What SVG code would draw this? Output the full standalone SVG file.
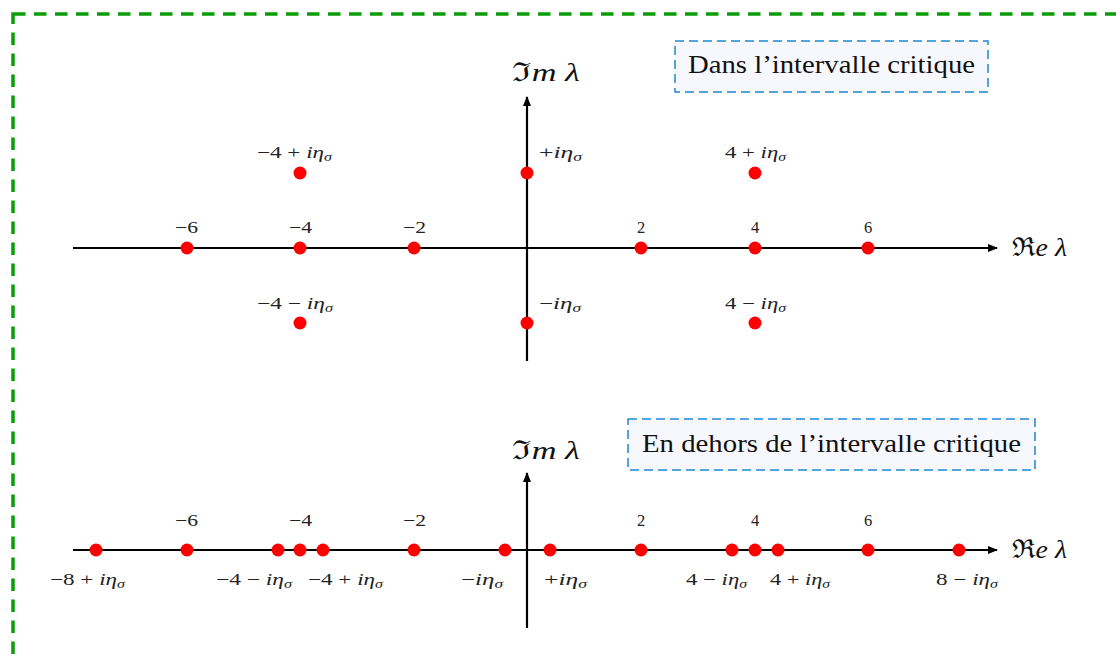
<svg xmlns="http://www.w3.org/2000/svg" width="1116" height="654" viewBox="0 0 1116 654">
<style>
.ax{stroke:#000;stroke-width:2.2;fill:none}
.dot{fill:#ff0000}
.t{font-family:"Liberation Serif","DejaVu Serif",serif;font-size:16.5px;fill:#222}
.s{font-size:11.5px;font-style:italic}
.big{font-family:"Liberation Serif","DejaVu Serif",serif;font-size:26px;fill:#111}
.box{fill:#f7f8fd;stroke:#1f88d0;stroke-width:1.5;stroke-dasharray:9 5}
.bt{font-family:"Liberation Serif","DejaVu Serif",serif;font-size:25px;fill:#111}
.i{font-style:italic}
</style>
<defs>
<marker id="arr" viewBox="0 0 10 8" refX="9" refY="4" markerWidth="11" markerHeight="8" markerUnits="userSpaceOnUse" orient="auto">
<path d="M0,0 L10,4 L0,8 z" fill="#000"/>
</marker>
</defs>
<rect x="13" y="14" width="1130" height="660" fill="none" stroke="#0a9d0a" stroke-width="3.5" stroke-dasharray="12.5 8.5"/>

<g id="connectors">
<line class="ax" x1="73" y1="248" x2="997" y2="248" marker-end="url(#arr)"/>
<line class="ax" x1="527" y1="361" x2="527" y2="97" marker-end="url(#arr)"/>
<line class="ax" x1="73" y1="550" x2="997" y2="550" marker-end="url(#arr)"/>
<line class="ax" x1="527" y1="628" x2="527" y2="473" marker-end="url(#arr)"/>
</g>

<g id="axis-labels">
<text class="big" x="512" y="81" textLength="68" lengthAdjust="spacingAndGlyphs">ℑ<tspan class="i">m λ</tspan></text>
<text class="big" x="1012" y="256" textLength="55" lengthAdjust="spacingAndGlyphs">ℜ<tspan class="i">e λ</tspan></text>
<text class="big" x="512" y="459" textLength="68" lengthAdjust="spacingAndGlyphs">ℑ<tspan class="i">m λ</tspan></text>
<text class="big" x="1012" y="558" textLength="55" lengthAdjust="spacingAndGlyphs">ℜ<tspan class="i">e λ</tspan></text>
</g>

<g id="box1">
<rect class="box" x="675" y="41" width="313" height="51"/>
<text class="bt" x="688" y="73" textLength="287" lengthAdjust="spacingAndGlyphs">Dans l’intervalle critique</text>
</g>
<g id="box2">
<rect class="box" x="628" y="419" width="407" height="51"/>
<text class="bt" x="642" y="452" textLength="379" lengthAdjust="spacingAndGlyphs">En dehors de l’intervalle critique</text>
</g>

<g id="top-points">
<circle class="dot" cx="187" cy="248" r="6.5"/>
<circle class="dot" cx="300" cy="248" r="6.5"/>
<circle class="dot" cx="414" cy="248" r="6.5"/>
<circle class="dot" cx="641" cy="248" r="6.5"/>
<circle class="dot" cx="755" cy="248" r="6.5"/>
<circle class="dot" cx="868" cy="248" r="6.5"/>
<circle class="dot" cx="300" cy="173" r="6.5"/>
<circle class="dot" cx="527" cy="173" r="6.5"/>
<circle class="dot" cx="755" cy="173" r="6.5"/>
<circle class="dot" cx="300" cy="323" r="6.5"/>
<circle class="dot" cx="527" cy="323" r="6.5"/>
<circle class="dot" cx="755" cy="323" r="6.5"/>
<text class="t" x="175" y="233" textLength="23" lengthAdjust="spacingAndGlyphs">−6</text>
<text class="t" x="289" y="233" textLength="23" lengthAdjust="spacingAndGlyphs">−4</text>
<text class="t" x="403" y="233" textLength="23" lengthAdjust="spacingAndGlyphs">−2</text>
<text class="t" x="637" y="233">2</text>
<text class="t" x="751" y="233">4</text>
<text class="t" x="864" y="233">6</text>
<text class="t" x="257" y="158" textLength="75" lengthAdjust="spacingAndGlyphs">−4 + <tspan class="i">iη</tspan><tspan class="s" dy="3">σ</tspan></text>
<text class="t" x="539" y="158" textLength="43" lengthAdjust="spacingAndGlyphs">+<tspan class="i">iη</tspan><tspan class="s" dy="3">σ</tspan></text>
<text class="t" x="725" y="158" textLength="61" lengthAdjust="spacingAndGlyphs">4 + <tspan class="i">iη</tspan><tspan class="s" dy="3">σ</tspan></text>
<text class="t" x="257" y="309" textLength="76" lengthAdjust="spacingAndGlyphs">−4 − <tspan class="i">iη</tspan><tspan class="s" dy="3">σ</tspan></text>
<text class="t" x="539" y="309" textLength="42" lengthAdjust="spacingAndGlyphs">−<tspan class="i">iη</tspan><tspan class="s" dy="3">σ</tspan></text>
<text class="t" x="725" y="309" textLength="61" lengthAdjust="spacingAndGlyphs">4 − <tspan class="i">iη</tspan><tspan class="s" dy="3">σ</tspan></text>
</g>

<g id="bottom-points">
<circle class="dot" cx="96" cy="550" r="6.5"/>
<circle class="dot" cx="187" cy="550" r="6.5"/>
<circle class="dot" cx="278" cy="550" r="6.5"/>
<circle class="dot" cx="300" cy="550" r="6.5"/>
<circle class="dot" cx="323" cy="550" r="6.5"/>
<circle class="dot" cx="414" cy="550" r="6.5"/>
<circle class="dot" cx="505" cy="550" r="6.5"/>
<circle class="dot" cx="550" cy="550" r="6.5"/>
<circle class="dot" cx="641" cy="550" r="6.5"/>
<circle class="dot" cx="732" cy="550" r="6.5"/>
<circle class="dot" cx="755" cy="550" r="6.5"/>
<circle class="dot" cx="778" cy="550" r="6.5"/>
<circle class="dot" cx="868" cy="550" r="6.5"/>
<circle class="dot" cx="959" cy="550" r="6.5"/>
<text class="t" x="175" y="526" textLength="23" lengthAdjust="spacingAndGlyphs">−6</text>
<text class="t" x="289" y="526" textLength="23" lengthAdjust="spacingAndGlyphs">−4</text>
<text class="t" x="403" y="526" textLength="23" lengthAdjust="spacingAndGlyphs">−2</text>
<text class="t" x="637" y="526">2</text>
<text class="t" x="751" y="526">4</text>
<text class="t" x="864" y="526">6</text>
<text class="t" x="50" y="585" textLength="75" lengthAdjust="spacingAndGlyphs">−8 + <tspan class="i">iη</tspan><tspan class="s" dy="3">σ</tspan></text>
<text class="t" x="216" y="585" textLength="76" lengthAdjust="spacingAndGlyphs">−4 − <tspan class="i">iη</tspan><tspan class="s" dy="3">σ</tspan></text>
<text class="t" x="308" y="585" textLength="75" lengthAdjust="spacingAndGlyphs">−4 + <tspan class="i">iη</tspan><tspan class="s" dy="3">σ</tspan></text>
<text class="t" x="461" y="585" textLength="42" lengthAdjust="spacingAndGlyphs">−<tspan class="i">iη</tspan><tspan class="s" dy="3">σ</tspan></text>
<text class="t" x="544" y="585" textLength="43" lengthAdjust="spacingAndGlyphs">+<tspan class="i">iη</tspan><tspan class="s" dy="3">σ</tspan></text>
<text class="t" x="686" y="585" textLength="61" lengthAdjust="spacingAndGlyphs">4 − <tspan class="i">iη</tspan><tspan class="s" dy="3">σ</tspan></text>
<text class="t" x="770" y="585" textLength="60" lengthAdjust="spacingAndGlyphs">4 + <tspan class="i">iη</tspan><tspan class="s" dy="3">σ</tspan></text>
<text class="t" x="936" y="585" textLength="62" lengthAdjust="spacingAndGlyphs">8 − <tspan class="i">iη</tspan><tspan class="s" dy="3">σ</tspan></text>
</g>
</svg>
